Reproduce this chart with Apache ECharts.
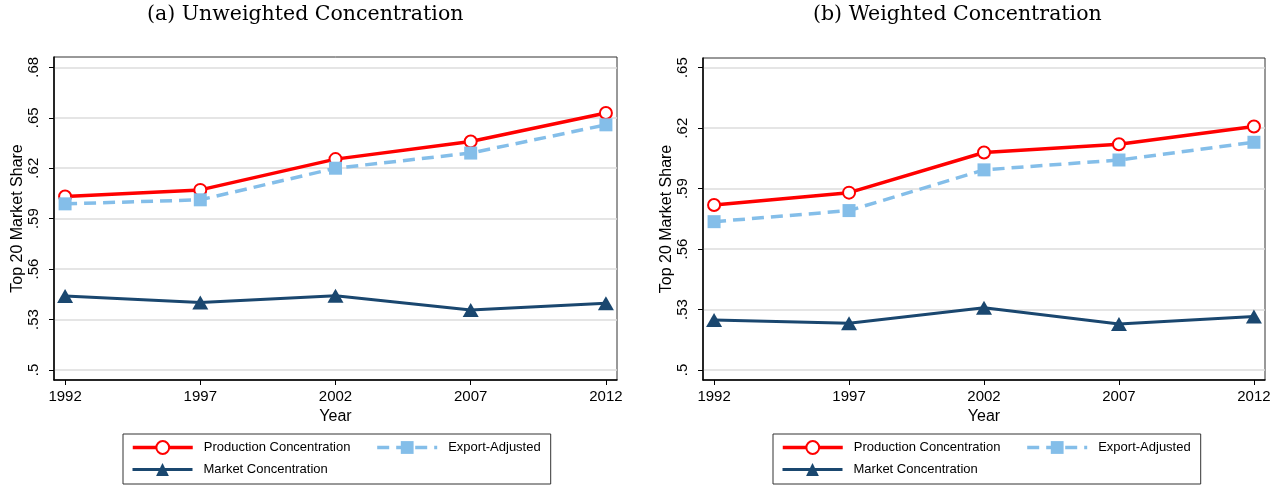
<!DOCTYPE html>
<html>
<head>
<meta charset="utf-8">
<script src="https://cdn.jsdelivr.net/npm/echarts@6/dist/echarts.min.js"></script>
<style>
  html, body { margin: 0; padding: 0; background: #fff; }
  #chart { width: 1284px; height: 486px; }
</style>
</head>
<body>
<div id="chart"></div>
<script>
// Census years
const years = [1992, 1997, 2002, 2007, 2012];

// (a) Unweighted concentration: top-20 market share
const prodUnweighted   = [0.6032, 0.6071, 0.6254, 0.6359, 0.6528];
const exportUnweighted = [0.5988, 0.6012, 0.6200, 0.6290, 0.6458];
const marketUnweighted = [0.5440, 0.5401, 0.5442, 0.5357, 0.5397];

// (b) Weighted concentration: top-20 market share
const prodWeighted   = [0.5819, 0.5880, 0.6079, 0.6120, 0.6208];
const exportWeighted = [0.5736, 0.5791, 0.5993, 0.6042, 0.6130];
const marketWeighted = [0.5248, 0.5232, 0.5309, 0.5228, 0.5265];

// Tick values
const yTicksA = [0.50, 0.53, 0.56, 0.59, 0.62, 0.65, 0.68];
const yTicksB = [0.50, 0.53, 0.56, 0.59, 0.62, 0.65];
const xTicks = years;

const panelTitles = ['(a) Unweighted Concentration', '(b) Weighted Concentration'];
const seriesNames = ['Production Concentration', 'Export-Adjusted', 'Market Concentration'];

const RED = '#ff0000';
const LTBLUE = '#84bee9';
const NAVY = '#1a476f';
const SANS = '"Liberation Sans", Arial, sans-serif';
const SERIF = '"DejaVu Serif", serif';

function fmtShare(v) {
  return String(+(+v).toFixed(2)).replace(/^0/, '');
}

function pairs(vals) {
  return years.map((y, i) => [y, vals[i]]);
}

function xAxisFor(gridIndex) {
  return {
    type: 'value', gridIndex,
    min: 1991.59, max: 2012.41,
    name: 'Year', nameLocation: 'middle', nameGap: 27,
    nameTextStyle: { fontFamily: SANS, fontSize: 16, color: '#000' },
    axisLine: { show: true, onZero: false, lineStyle: { color: '#000', width: 1.5 } },
    axisTick: { show: true, length: 5, customValues: xTicks, lineStyle: { color: '#000', width: 1 } },
    axisLabel: { customValues: xTicks, margin: 9, fontFamily: SANS, fontSize: 15, color: '#000',
                 formatter: v => String(v) },
    splitLine: { show: false }
  };
}

function yAxisFor(gridIndex, ticks, min, max) {
  return {
    type: 'value', gridIndex, min, max,
    name: 'Top 20 Market Share', nameLocation: 'middle', nameGap: 28,
    nameTextStyle: { fontFamily: SANS, fontSize: 16, color: '#000' },
    axisLine: { show: true, onZero: false, lineStyle: { color: '#000', width: 1.5 } },
    axisTick: { show: true, length: 5, customValues: ticks, lineStyle: { color: '#000', width: 1 } },
    axisLabel: { customValues: ticks, rotate: 90, margin: 13, fontFamily: SANS, fontSize: 15, color: '#000',
                 formatter: fmtShare },
    splitLine: { show: true, lineStyle: { color: '#dcdcdc', width: 1.5 } }
  };
}

function panelSeries(idx, prod, exp, mkt) {
  return [
    {
      name: seriesNames[0], type: 'line', xAxisIndex: idx, yAxisIndex: idx,
      data: pairs(prod), symbol: 'emptyCircle', symbolSize: 12,
      lineStyle: { color: RED, width: 3.5 },
      itemStyle: { color: RED, borderColor: RED, borderWidth: 1.3 },
      silent: true, animation: false, z: 3
    },
    {
      name: seriesNames[1], type: 'line', xAxisIndex: idx, yAxisIndex: idx,
      data: pairs(exp), symbol: 'rect', symbolSize: 13,
      lineStyle: { color: LTBLUE, width: 3.5, type: [12, 7] },
      itemStyle: { color: LTBLUE },
      silent: true, animation: false, z: 4
    },
    {
      name: seriesNames[2], type: 'line', xAxisIndex: idx, yAxisIndex: idx,
      data: pairs(mkt), symbol: 'triangle', symbolSize: [16, 14],
      lineStyle: { color: NAVY, width: 3 },
      itemStyle: { color: NAVY },
      silent: true, animation: false, z: 5
    }
  ];
}

// Two-row key: the framed first row (its bottom padding makes room for
// the second row), and an unframed second row placed inside that frame.
function legendsFor(left) {
  const common = {
    orient: 'horizontal',
    selectedMode: false,
    itemWidth: 60, itemHeight: 16, itemGap: 25,
    lineStyle: { width: 'inherit' },
    textStyle: { fontFamily: SANS, fontSize: 13, color: '#000', lineHeight: 17,
                 padding: [0, 0, 0, 6] }
  };
  return [
    Object.assign({}, common, {
      left, top: 434,
      data: [seriesNames[0], seriesNames[1]],
      padding: [5, 10, 28, 8],
      borderColor: '#333', borderWidth: 1, borderRadius: 0
    }),
    Object.assign({}, common, {
      left: left + 8, top: 461,
      data: [seriesNames[2]],
      padding: 0
    })
  ];
}

const chart = echarts.init(document.getElementById('chart'), null, { renderer: 'canvas' });
chart.setOption({
  backgroundColor: '#fff',
  animation: false,
  title: [
    { text: panelTitles[0], left: 147, top: 4, padding: 0,
      textStyle: { fontFamily: SERIF, fontWeight: 'normal', fontSize: 20.5, color: '#000' } },
    { text: panelTitles[1], left: 813, top: 4, padding: 0,
      textStyle: { fontFamily: SERIF, fontWeight: 'normal', fontSize: 20.5, color: '#000' } }
  ],
  grid: [
    { left: 54, top: 57, width: 563, height: 323, show: true, borderColor: '#333', borderWidth: 1, containLabel: false },
    { left: 703, top: 58, width: 562, height: 322, show: true, borderColor: '#333', borderWidth: 1, containLabel: false }
  ],
  xAxis: [xAxisFor(0), xAxisFor(1)],
  yAxis: [
    yAxisFor(0, yTicksA, 0.49405, 0.68613),
    yAxisFor(1, yTicksB, 0.49504, 0.65481)
  ],
  legend: [...legendsFor(123), ...legendsFor(773)],
  series: [
    ...panelSeries(0, prodUnweighted, exportUnweighted, marketUnweighted),
    ...panelSeries(1, prodWeighted, exportWeighted, marketWeighted)
  ]
});
</script>
</body>
</html>
